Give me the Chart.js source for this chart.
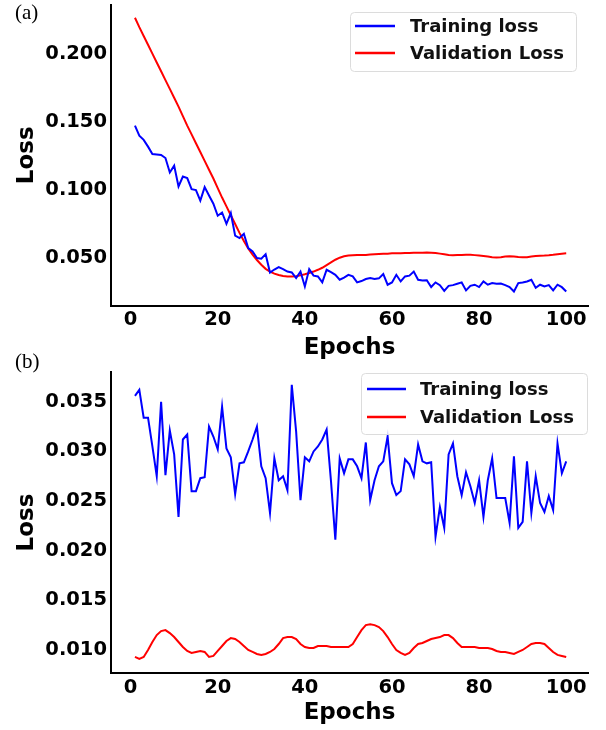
<!DOCTYPE html>
<html><head><meta charset="utf-8">
<script src="https://cdn.jsdelivr.net/npm/chart.js@4.4.1/dist/chart.umd.min.js"></script>
<style>
html,body{margin:0;padding:0;background:#fff;}
#wrap{position:relative;width:606px;height:730px;overflow:hidden;background:#fff;}
canvas{position:absolute;left:0;}
.lbl{position:absolute;left:15px;font-family:"Liberation Serif","Times New Roman",serif;font-size:21px;line-height:21px;color:#000;}
</style></head><body>
<div id="wrap">
<canvas id="ca" width="606" height="365" style="top:0"></canvas>
<canvas id="cb" width="606" height="365" style="top:365px"></canvas>
<div class="lbl" style="top:2px">(a)</div>
<div class="lbl" style="top:351px">(b)</div>
</div>
<script>
// ---------- data ----------
const epochs = Array.from({length:100}, (_, i) => i + 1);
const seriesNames = ['Training loss', 'Validation Loss'];
const xTicks = [0, 20, 40, 60, 80, 100];
const yTicksA = [0.050, 0.100, 0.150, 0.200];
const yTicksB = [0.010, 0.015, 0.020, 0.025, 0.030, 0.035];

const trainA = [
0.1474,0.1400,0.1370,0.1320,0.1265,0.1262,0.1258,0.1236,0.1130,0.1180,
0.1027,0.1100,0.1088,0.1007,0.1000,0.0923,0.1022,0.0960,0.0900,0.0811,
0.0835,0.0752,0.0831,0.0664,0.0647,0.0678,0.0573,0.0548,0.0500,0.0495,
0.0528,0.0393,0.0415,0.0433,0.0418,0.0400,0.0393,0.0352,0.0400,0.0290,
0.0418,0.0370,0.0364,0.0320,0.0413,0.0395,0.0376,0.0340,0.0355,0.0376,
0.0365,0.0320,0.0330,0.0345,0.0352,0.0345,0.0350,0.0382,0.0303,0.0320,
0.0376,0.0327,0.0364,0.0370,0.0400,0.0339,0.0334,0.0336,0.0286,0.0320,
0.0300,0.0258,0.0295,0.0300,0.0310,0.0320,0.0261,0.0295,0.0303,0.0286,
0.0327,0.0303,0.0315,0.0310,0.0312,0.0300,0.0286,0.0253,0.0315,0.0320,
0.0327,0.0340,0.0280,0.0303,0.0290,0.0300,0.0261,0.0303,0.0285,0.0253];

const validA = [
0.2269,0.2200,0.2135,0.2070,0.2005,0.1940,0.1875,0.1810,0.1745,0.1680,
0.1615,0.1545,0.1475,0.1410,0.1345,0.1280,0.1215,0.1150,0.1085,0.1015,
0.0945,0.0880,0.0815,0.0750,0.0685,0.0625,0.0570,0.0525,0.0485,0.0450,
0.0420,0.0400,0.0385,0.0375,0.0368,0.0364,0.0363,0.0366,0.0372,0.0380,
0.0389,0.0400,0.0413,0.0428,0.0448,0.0468,0.0487,0.0502,0.0512,0.0518,
0.0520,0.0521,0.0521,0.0522,0.0525,0.0528,0.0530,0.0531,0.0532,0.0534,
0.0535,0.0535,0.0536,0.0537,0.0538,0.0539,0.0539,0.0540,0.0539,0.0536,
0.0532,0.0527,0.0522,0.0520,0.0521,0.0522,0.0523,0.0523,0.0521,0.0518,
0.0514,0.0510,0.0506,0.0503,0.0506,0.0510,0.0512,0.0510,0.0507,0.0505,
0.0506,0.0510,0.0514,0.0517,0.0518,0.0520,0.0523,0.0527,0.0531,0.0534];

const trainB = [
0.0356,0.0362,0.0334,0.0334,0.0305,0.0275,0.0350,0.0276,0.0321,0.0297,
0.0234,0.0312,0.0317,0.0260,0.0260,0.0273,0.0274,0.0325,0.0315,0.0302,
0.0345,0.0303,0.0294,0.0257,0.0288,0.0289,0.0300,0.0312,0.0325,0.0285,
0.0273,0.0238,0.0293,0.0271,0.0275,0.0261,0.0367,0.0320,0.0251,0.0294,
0.0290,0.0300,0.0305,0.0312,0.0322,0.0270,0.0211,0.0293,0.0278,0.0292,
0.0292,0.0285,0.0273,0.0309,0.0251,0.0271,0.0285,0.0290,0.0315,0.0268,
0.0256,0.0260,0.0292,0.0287,0.0275,0.0307,0.0290,0.0288,0.0289,0.0214,
0.0244,0.0223,0.0297,0.0308,0.0275,0.0256,0.0279,0.0265,0.0248,0.0271,
0.0234,0.0271,0.0293,0.0253,0.0253,0.0253,0.0228,0.0295,0.0223,0.0229,
0.0290,0.0238,0.0275,0.0248,0.0239,0.0255,0.0241,0.0308,0.0278,0.0290];

const validB = [
0.0093,0.0091,0.0093,0.0100,0.0108,0.0115,0.0119,0.0120,0.0117,0.0113,
0.0108,0.0103,0.0099,0.0097,0.0098,0.0099,0.0098,0.0093,0.0094,0.0099,
0.0104,0.0109,0.0112,0.0111,0.0108,0.0104,0.0100,0.0098,0.0096,0.0095,
0.0096,0.0098,0.0101,0.0106,0.0112,0.0113,0.0113,0.0111,0.0106,0.0103,
0.0102,0.0102,0.0104,0.0104,0.0104,0.0103,0.0103,0.0103,0.0103,0.0103,
0.0106,0.0113,0.0120,0.0125,0.0126,0.0125,0.0123,0.0119,0.0113,0.0106,
0.0100,0.0097,0.0095,0.0097,0.0102,0.0106,0.0107,0.0109,0.0111,0.0112,
0.0113,0.0115,0.0115,0.0112,0.0107,0.0103,0.0103,0.0103,0.0103,0.0102,
0.0102,0.0102,0.0101,0.0099,0.0098,0.0098,0.0097,0.0096,0.0098,0.0100,
0.0103,0.0106,0.0107,0.0107,0.0106,0.0102,0.0098,0.0095,0.0094,0.0093];

// ---------- helpers ----------
const toXY = arr => arr.map((v, i) => ({x: epochs[i], y: v}));
const FONT = '"DejaVu Sans", "Liberation Sans", sans-serif';

function legendPlugin(cfg) {
  return {
    id: 'boxLegend',
    afterDraw(chart) {
      const ctx = chart.ctx;
      ctx.save();
      const {x0, y0, x1, y1} = cfg.box;
      const r = 4;
      ctx.beginPath();
      ctx.moveTo(x0 + r, y0);
      ctx.lineTo(x1 - r, y0); ctx.quadraticCurveTo(x1, y0, x1, y0 + r);
      ctx.lineTo(x1, y1 - r); ctx.quadraticCurveTo(x1, y1, x1 - r, y1);
      ctx.lineTo(x0 + r, y1); ctx.quadraticCurveTo(x0, y1, x0, y1 - r);
      ctx.lineTo(x0, y0 + r); ctx.quadraticCurveTo(x0, y0, x0 + r, y0);
      ctx.closePath();
      ctx.fillStyle = 'rgba(255,255,255,0.8)';
      ctx.fill();
      ctx.strokeStyle = '#dcdcdc';
      ctx.lineWidth = 1;
      ctx.stroke();
      chart.data.datasets.forEach((ds, i) => {
        const y = cfg.rows[i];
        ctx.beginPath();
        ctx.strokeStyle = ds.borderColor;
        ctx.lineWidth = 2.5;
        ctx.moveTo(cfg.lx0, y); ctx.lineTo(cfg.lx1, y);
        ctx.stroke();
        ctx.fillStyle = '#111';
        ctx.font = 'bold 18px ' + FONT;
        ctx.textBaseline = 'middle';
        ctx.textAlign = 'left';
        ctx.fillText(ds.label, cfg.tx, y + 1);
      });
      ctx.restore();
    }
  };
}

function makeChart(id, train, valid, yTicks, yMin, yMax, padTop, xHeight, legendCfg) {
  return new Chart(document.getElementById(id), {
    type: 'line',
    data: {
      datasets: [
        {label: seriesNames[0], data: toXY(train), borderColor: '#0000ff', borderWidth: 2, pointRadius: 0, fill: false, tension: 0},
        {label: seriesNames[1], data: toXY(valid), borderColor: '#ff0000', borderWidth: 2, pointRadius: 0, fill: false, tension: 0}
      ]
    },
    options: {
      responsive: false,
      animation: false,
      layout: {padding: {left: 0, right: 18, top: padTop, bottom: 0}},
      plugins: {legend: {display: false}, tooltip: {enabled: false}},
      scales: {
        x: {
          type: 'linear', min: -4.5, max: 105,
          grid: {display: false, drawTicks: false},
          border: {display: true, color: '#000', width: 2},
          afterBuildTicks: s => { s.ticks = xTicks.map(v => ({value: v})); },
          afterFit: s => { s.height = xHeight; s.paddingLeft = 0; s.paddingRight = 0; },
          ticks: {color: '#000', padding: 3, font: {family: FONT, weight: 'bold', size: 19.5}, callback: v => String(v), maxRotation: 0},
          title: {display: true, text: 'Epochs', color: '#000', font: {family: FONT, weight: 'bold', size: 23}, padding: {top: 0, bottom: 3}}
        },
        y: {
          type: 'linear', min: yMin, max: yMax,
          grid: {display: false, drawTicks: false},
          border: {display: true, color: '#000', width: 2},
          afterBuildTicks: s => { s.ticks = yTicks.map(v => ({value: v})); },
          afterFit: s => { s.width = 111; s.paddingTop = 0; s.paddingBottom = 0; },
          ticks: {color: '#000', padding: 4, font: {family: FONT, weight: 'bold', size: 19.5}, callback: v => Number(v).toFixed(3)},
          title: {display: true, text: 'Loss', color: '#000', font: {family: FONT, weight: 'bold', size: 23}, padding: {top: 13, bottom: 0}}
        }
      }
    },
    plugins: [legendPlugin(legendCfg)]
  });
}

makeChart('ca', trainA, validA, yTicksA, 0.0150, 0.2363, 5, 59.5,
  {box: {x0: 350.5, y0: 12.5, x1: 576.5, y1: 71.5}, rows: [26, 53], lx0: 355, lx1: 395, tx: 410});
makeChart('cb', trainB, validB, yTicksB, 0.00768, 0.0380, 7, 57,
  {box: {x0: 361.5, y0: 8.5, x1: 587.5, y1: 69.5}, rows: [24, 52], lx0: 367, lx1: 406, tx: 420});
</script>
</body></html>
